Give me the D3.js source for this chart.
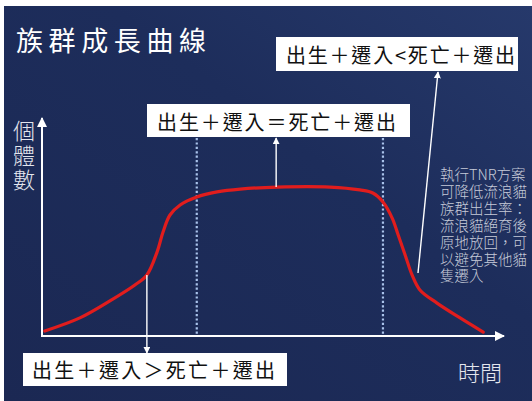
<!DOCTYPE html>
<html>
<head>
<meta charset="utf-8">
<script src="https://cdn.jsdelivr.net/npm/d3@7"></script>
<style>
  html,body{margin:0;padding:0;background:#fff;}
  svg{display:block;}
  .note{font-family:'Noto Sans CJK TC','Noto Sans CJK SC',sans-serif;font-size:14.5px;line-height:16.9px;
        font-weight:300;color:#c6cad8;margin:0;white-space:nowrap;}
</style>
</head>
<body>
<script>
// curve data: time (0-100) vs population (0-100)
var times  = [0.6, 8.2, 14.7, 20.1, 22.7, 24.9, 26.2, 27.7, 29.9, 33.5, 37.9, 42.9, 50.9, 62.3, 68.8, 71.6, 73.8, 75.8, 77.1, 78.6, 80.1, 81.8, 85.5, 90.5, 95.5];
var counts = [2.3, 8.3, 16.1, 23.4, 28.0, 38.5, 47.7, 55.5, 60.1, 63.8, 66.1, 67.4, 68.3, 68.3, 67.0, 65.6, 61.5, 54.1, 46.3, 37.2, 28.0, 21.1, 15.1, 8.3, 1.8];
var phaseLines = [33.5, 73.8];   // dotted separators
var title = "族群成長曲線";
var yLabel = "個體數";
var xLabel = "時間";
var boxGrow = "出生＋遷入＞死亡＋遷出";
var boxFlat = "出生＋遷入＝死亡＋遷出";
var boxDrop = "出生＋遷入<死亡＋遷出";
var note = ["執行TNR方案", "可降低流浪貓", "族群出生率：", "流浪貓絕育後", "原地放回，可", "以避免其他貓", "隻遷入"];

var W = 532, H = 401;
var svg = d3.select("body").append("svg").attr("width", W).attr("height", H);
var defs = svg.append("defs");

var bg = defs.append("linearGradient").attr("id", "bg")
  .attr("x1", "0").attr("y1", "1").attr("x2", "1").attr("y2", "0");
bg.append("stop").attr("offset", "0").attr("stop-color", "#1b2853");
bg.append("stop").attr("offset", "0.6").attr("stop-color", "#1d2d5b");
bg.append("stop").attr("offset", "1").attr("stop-color", "#26396b");

defs.append("marker").attr("id", "ar")
  .attr("viewBox", "0 0 10 10").attr("refX", 9).attr("refY", 5)
  .attr("markerWidth", 5).attr("markerHeight", 5)
  .attr("orient", "auto")
  .append("path").attr("d", "M0,0 L10,5 L0,10 z").attr("fill", "#fff");

svg.append("rect").attr("x", 4).attr("y", 6).attr("width", W - 4).attr("height", H - 6)
  .attr("fill", "url(#bg)");

var x = d3.scaleLinear().domain([0, 100]).range([42, 504]);
var y = d3.scaleLinear().domain([0, 100]).range([336, 118]);

var font = "'Noto Sans CJK TC', 'Noto Sans CJK SC', sans-serif";

// title
svg.append("text").attr("x", 16).attr("y", 51)
  .attr("textLength", 190).attr("lengthAdjust", "spacing")
  .attr("font-family", font).attr("font-size", 27).attr("fill", "#fff")
  .text(title);

// dotted phase lines
svg.selectAll(".phase").data(phaseLines).enter().append("line")
  .attr("x1", function(d){ return x(d); }).attr("x2", function(d){ return x(d); })
  .attr("y1", 138).attr("y2", y(0))
  .attr("stroke", "#a9c2ea").attr("stroke-width", 2.2)
  .attr("stroke-dasharray", "2.2,2.2");

// axes
svg.append("line").attr("x1", x(0)).attr("y1", y(0)).attr("x2", x(0)).attr("y2", y(100))
  .attr("stroke", "#fff").attr("stroke-width", 2).attr("marker-end", "url(#ar)");
svg.append("line").attr("x1", x(0) - 1).attr("y1", y(0)).attr("x2", x(100)).attr("y2", y(0))
  .attr("stroke", "#fff").attr("stroke-width", 2).attr("marker-end", "url(#ar)");

// axis labels
svg.append("text").attr("x", 24).attr("y", 120)
  .style("writing-mode", "vertical-rl").style("letter-spacing", "2.5px")
  .attr("font-family", font).attr("font-size", 22).attr("font-weight", 300).attr("fill", "#e4e6ee")
  .text(yLabel);
svg.append("text").attr("x", 480).attr("y", 381).attr("text-anchor", "middle")
  .attr("font-family", font).attr("font-size", 22).attr("font-weight", 300).attr("fill", "#e4e6ee")
  .text(xLabel);

// curve
var pts = times.map(function(t, i){ return [t, counts[i]]; });
var line = d3.line().x(function(d){ return x(d[0]); }).y(function(d){ return y(d[1]); })
  .curve(d3.curveCatmullRom.alpha(0.5));
svg.append("path").datum(pts).attr("d", line)
  .attr("fill", "none").attr("stroke", "#e11d1d").attr("stroke-width", 3.2)
  .attr("stroke-linecap", "round");

// annotation arrows
function arrow(x1, y1, x2, y2){
  svg.append("line").attr("x1", x1).attr("y1", y1).attr("x2", x2).attr("y2", y2)
    .attr("stroke", "#fff").attr("stroke-width", 1.4).attr("marker-end", "url(#ar)");
}
arrow(x(times[4]), y(counts[4]), x(times[4]), 353);
arrow(x(times[12]) - 1, y(counts[12]), x(times[12]) - 1, 138);
arrow(418, 273, 438, 72);

// boxes
function box(x0, y0, w, h, txt, tx, tw, base){
  svg.append("rect").attr("x", x0).attr("y", y0).attr("width", w).attr("height", h)
    .attr("fill", "#fff");
  svg.append("text").attr("x", tx).attr("y", base)
    .attr("textLength", tw).attr("lengthAdjust", "spacing")
    .attr("font-family", font).attr("font-size", 20).attr("fill", "#111")
    .text(txt);
}
box(147, 104, 263, 33, boxFlat, 157, 239, 130);
box(276, 37, 242, 34, boxDrop, 286, 229, 63);
box(23, 353, 264, 33, boxGrow, 32, 243, 378);

// TNR note, as an html block so its lines keep a tight leading
var fo = svg.append("foreignObject").attr("x", 440).attr("y", 166).attr("width", 92).attr("height", 125);
var div = fo.append("xhtml:div").attr("class", "note");
note.forEach(function(d, i){
  if (i) div.append("xhtml:br");
  div.append("xhtml:span").text(d);
});
</script>
</body>
</html>
